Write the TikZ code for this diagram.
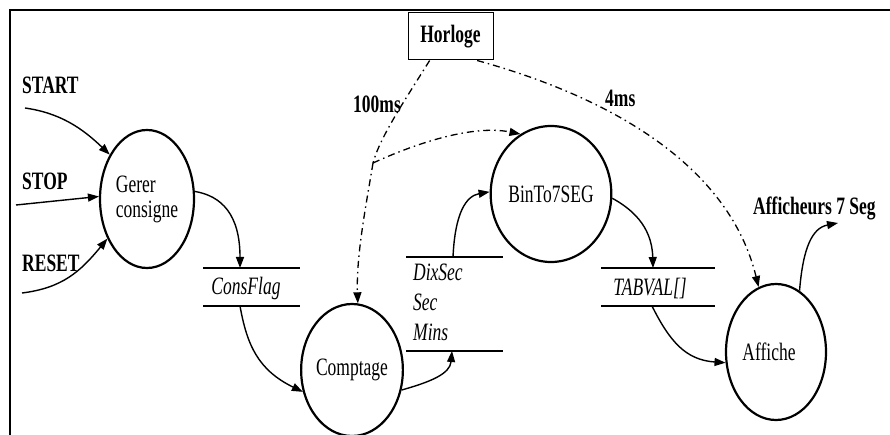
\documentclass[tikz,border=0pt]{standalone}
\usepackage{fontspec}
\setmainfont{Liberation Serif}[FakeStretch=0.70]
\usetikzlibrary{arrows.meta,shapes.geometric}
\begin{document}
\begin{tikzpicture}[x=1pt,y=-1pt,
  base/.style={font=\fontsize{25}{25}\selectfont},
  proc/.style={base,draw,ellipse,line width=2.2pt,inner sep=0pt},
  flow/.style={line width=1.4pt,-{Triangle[length=11pt,width=8pt]}},
  clock/.style={line width=1.3pt,dash pattern=on 7pt off 4pt on 1.5pt off 4pt,-{Triangle[length=11pt,width=8pt]}},
  lbl/.style={font=\bfseries\fontsize{25}{25}\selectfont,anchor=base west,inner sep=0pt},
  storetxt/.style={font=\itshape\fontsize{25}{25}\selectfont,inner sep=0pt},
  storeline/.style={line width=2.2pt},
  frame/.style={line width=2.4pt}]
\useasboundingbox (0,0) rectangle (890,435);
% frame
\draw[frame] (10,435) -- (10,10) -- (890,10);

% clock
\node[draw,line width=1pt,minimum width=85pt,minimum height=47pt,inner sep=0pt,
      font=\bfseries\fontsize{25}{25}\selectfont] (horloge) at (450.5,36.5) {Horloge};

% processes
\node[proc,minimum width=94pt,minimum height=138pt,align=left] (gerer) at (147,199) {Gerer\\consigne};
\node[proc,minimum width=94pt,minimum height=132pt] (comptage) at (352,370) {Comptage};
\node[proc,minimum width=96pt,minimum height=136pt] (binto) at (551,194) {\raisebox{-5pt}{BinTo7SEG}};
\node[proc,minimum width=100pt,minimum height=136pt] (affiche) at (776,352) {\hspace*{-14pt}\raisebox{-4pt}{Affiche}};

% stores
\draw[storeline] (203,268) -- (300,268);
\draw[storeline] (203,306) -- (300,306);
\node[storetxt] (consflag) at (246,288) {ConsFlag};
\coordinate (consTop) at (240,268);
\coordinate (consBot) at (240,306);

\draw[storeline] (406,257) -- (503,257);
\draw[storeline] (406,351) -- (503,351);
\node[storetxt,anchor=base west] (dixsec) at (413,280) {DixSec};
\node[storetxt,anchor=base west] (sec) at (413,310) {Sec};
\node[storetxt,anchor=base west] (mins) at (413,340) {Mins};
\coordinate (dixTop) at (453,257);
\coordinate (dixBot) at (452,351);

\draw[storeline] (601,268) -- (715,268);
\draw[storeline] (601,306) -- (715,306);
\node[storetxt] (tabval) at (650,288) {TABVAL[]};
\coordinate (tabTop) at (653,268);
\coordinate (tabBot) at (652,306);

% external labels
\node[lbl] (start) at (22,94) {START};
\node[lbl] (stop) at (22,190) {STOP};
\node[lbl] (reset) at (22,272) {RESET};
\node[lbl] (afficheurs) at (753,215) {Afficheurs 7 Seg};
\node[lbl] (t100) at (353,113) {100ms};
\node[lbl] (t4) at (605,107) {4ms};

\coordinate (startA) at (25,108);
\coordinate (stopA) at (16,205);
\coordinate (resetA) at (22,293);
\coordinate (outT) at (838,223);
\coordinate (jn) at (373,163);

% flows
\draw[flow] (startA) .. controls (60,113) and (82,128) .. (gerer.130);
\draw[flow] (stopA) -- (gerer.177);
\draw[flow] (resetA) .. controls (62,288) and (80,272) .. (gerer.225);
\draw[flow] (gerer.9) .. controls (222,196) and (240,215) .. (consTop);
\draw[flow] (consBot) .. controls (247,345) and (258,370) .. (comptage.204);
\draw[flow] (comptage.338) .. controls (430,382) and (450,374) .. (dixBot);
\draw[flow] (dixTop) .. controls (455,213) and (466,196) .. (binto.178);
\draw[flow] (binto.356) .. controls (630,208) and (652,225) .. (tabTop);
\draw[flow] (tabBot) .. controls (670,342) and (686,360) .. (affiche.192);
\draw[flow] (affiche.69) .. controls (803,248) and (812,228) .. (outT);

% clock signals
\draw[clock,-] (horloge.229) .. controls (405,100) and (380,137) .. (jn);
\draw[clock] (jn) .. controls (367,200) and (356,255) .. (comptage.85);
\draw[clock] (jn) .. controls (410,146) and (470,124) .. (binto.117);
\draw[clock] (horloge.318) .. controls (620,100) and (730,170) .. (affiche.105);
\end{tikzpicture}
\end{document}
